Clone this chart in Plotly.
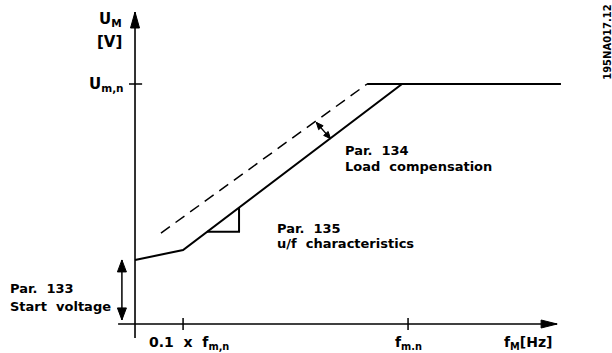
import math
import plotly.graph_objects as go

# Motor voltage vs. motor frequency, normalised so that f_m,n = 1 and U_m,n = 1
f_solid = [0.0, 0.176, 0.978, 1.56]
u_solid = [0.267, 0.308, 1.0, 1.0]

# Characteristic raised by load compensation (dashed ramp, then solid plateau)
f_comp = [0.095, 0.850]
u_comp = [0.379, 1.0]
f_comp_plateau = [0.850, 0.978]
u_comp_plateau = [1.0, 1.0]

# Slope marker (u/f characteristics)
f_slope = [0.264, 0.381, 0.381]
u_slope = [0.384, 0.384, 0.485]

# Axis extents and tick positions
f_axis = [-0.062, 1.546]
u_axis = [-0.058, 1.30]
f_tick_low = 0.176
f_tick_nom = 1.0
u_tick_nom = 1.0

# Double arrows: load compensation and start voltage
comp_arrow = [(0.664, 0.840), (0.716, 0.772)]
start_arrow = [(-0.048, 0.267), (-0.048, 0.017)]

FONT = "DejaVu Sans"
BLACK = "#000000"

X_RANGE = [-0.4945, 1.747]
Y_RANGE = [-0.1208, 1.35]
W, H = 612, 353
PX_X = W / (X_RANGE[1] - X_RANGE[0])   # pixels per unit of f
PX_Y = H / (Y_RANGE[1] - Y_RANGE[0])   # pixels per unit of U

fig = go.Figure()


def line(xs, ys, width=2.0, dash=None):
    fig.add_trace(go.Scatter(x=xs, y=ys, mode="lines", hoverinfo="skip",
                             line=dict(color=BLACK, width=width, dash=dash)))


def head(tip, tail, length, width):
    """Filled arrow head with its point at `tip`, aimed away from `tail`."""
    dx = (tip[0] - tail[0]) * PX_X
    dy = (tip[1] - tail[1]) * PX_Y
    n = math.hypot(dx, dy)
    ux, uy = dx / n, dy / n
    bx, by = -ux * length, -uy * length
    px, py = -uy * width / 2, ux * width / 2
    xs = [tip[0], tip[0] + (bx + px) / PX_X, tip[0] + (bx - px) / PX_X, tip[0]]
    ys = [tip[1], tip[1] + (by + py) / PX_Y, tip[1] + (by - py) / PX_Y, tip[1]]
    fig.add_trace(go.Scatter(x=xs, y=ys, mode="lines", fill="toself",
                             fillcolor=BLACK, hoverinfo="skip",
                             line=dict(color=BLACK, width=1)))


def arrow(p0, p1, both=False, length=10, width=8, lw=1.5):
    line([p0[0], p1[0]], [p0[1], p1[1]], width=lw)
    head(p1, p0, length, width)
    if both:
        head(p0, p1, length, width)


line(f_solid, u_solid, width=2)
line(f_comp, u_comp, width=1.5, dash="11px,7px")
line(f_comp_plateau, u_comp_plateau, width=2)
line(f_slope, u_slope, width=2)

# Ticks
for ft in (f_tick_low, f_tick_nom):
    line([ft, ft], [0.025, -0.025], width=1.5)
line([-0.022, 0.026], [u_tick_nom, u_tick_nom], width=1.5)

# Axes with arrow heads
arrow((f_axis[0], 0), (f_axis[1], 0), length=16, width=8, lw=1.6)
arrow((0, u_axis[0]), (0, u_axis[1]), length=16, width=9, lw=1.6)

arrow(comp_arrow[0], comp_arrow[1], both=True, length=7, width=6, lw=1.4)
arrow(start_arrow[0], start_arrow[1], both=True, length=12, width=9, lw=1.5)

annotations = []


def label(x, y, text, anchor="left", size=13, angle=0):
    annotations.append(dict(x=x, y=y, xref="x", yref="y", text=text,
                            showarrow=False, xanchor=anchor, yanchor="middle",
                            textangle=angle,
                            font=dict(family=FONT, size=size, color=BLACK,
                                      weight="bold")))


label(-0.040, 1.268, "U<sub>M</sub>", anchor="right", size=15)
label(-0.040, 1.175, "[V]", anchor="right", size=15)
label(-0.033, u_tick_nom, "U<sub>m,n</sub>", anchor="right", size=15)

label(-0.465, 0.150, "Par.  133")
label(-0.465, 0.071, "Start  voltage")

label(0.044, -0.080, "0.1  x  f<sub>m,n</sub>", size=14)
label(f_tick_nom, -0.080, "f<sub>m.n</sub>", anchor="center", size=14)
label(1.345, -0.080, "f<sub>M</sub>[Hz]", size=14)

label(0.762, 0.725, "Par.  134")
label(0.762, 0.658, "Load  compensation")

label(0.513, 0.400, "Par.  135")
label(0.513, 0.337, "u/f  characteristics")

label(1.728, 1.175, "195NA017.12", anchor="center", size=10, angle=-90)

fig.update_layout(
    width=W, height=H,
    margin=dict(l=0, r=0, t=0, b=0),
    paper_bgcolor="white", plot_bgcolor="white",
    showlegend=False,
    xaxis=dict(range=X_RANGE, visible=False, fixedrange=True),
    yaxis=dict(range=Y_RANGE, visible=False, fixedrange=True),
    annotations=annotations,
)

fig.write_html("out.html")
